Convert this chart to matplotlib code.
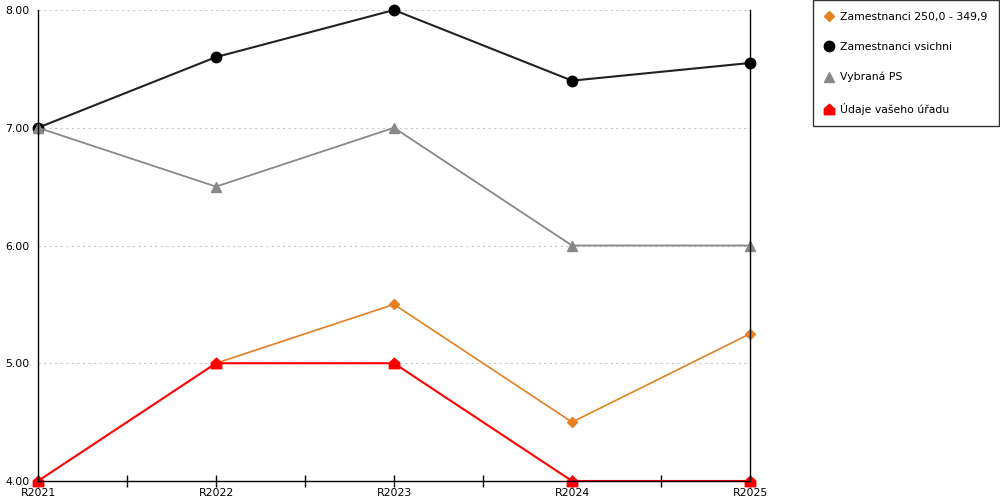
import matplotlib
matplotlib.use("Agg")
import matplotlib.pyplot as plt
import numpy as np
from matplotlib.path import Path

plt.rcParams['font.family'] = ['DejaVu Sans']

roky = ['R2021', 'R2022', 'R2023', 'R2024', 'R2025']
zam_250 = [np.nan, 5.0, 5.5, 4.5, 5.25]
zam_vsichni = [7.0, 7.6, 8.0, 7.4, 7.55]
vybrana_ps = [7.0, 6.5, 7.0, 6.0, 6.0]
vas_urad = [4.0, 5.0, 5.0, 4.0, 4.0]

# domecek - ctverec se strizkou
house = Path([(-1, -1), (1, -1), (1, 0.1), (0, 1), (-1, 0.1), (-1, -1)],
             [Path.MOVETO, Path.LINETO, Path.LINETO, Path.LINETO, Path.LINETO, Path.CLOSEPOLY])

fig = plt.figure(figsize=(10, 5), dpi=100)
ax = fig.add_axes([0.038, 0.038, 0.712, 0.942])

x = np.arange(len(roky))
ax.plot(x, zam_250, color='#E67E22', lw=1.2, marker='D', ms=5.5, clip_on=False,
        label='Zamestnanci 250,0 - 349,9')
ax.plot(x, zam_vsichni, color='#222222', lw=1.5, marker='o', ms=7.5, mfc='black', mec='black',
        clip_on=False, label='Zamestnanci vsichni')
ax.plot(x, vybrana_ps, color='#888888', lw=1.3, marker='^', ms=7.5, clip_on=False, label='Vybraná PS')
ax.plot(x, vas_urad, color='#FF0000', lw=1.5, marker=house, ms=7.5, clip_on=False,
        label='Údaje vašeho úřadu')

ax.set_xlim(0, 4)
ax.set_ylim(4, 8)
ax.set_xticks(x)
ax.set_xticklabels(roky)
ax.set_xticks(x[:-1] + 0.5, minor=True)
ax.set_yticks([4, 5, 6, 7, 8])
ax.set_yticklabels(['4.00', '5.00', '6.00', '7.00', '8.00'])
ax.tick_params(axis='x', which='both', direction='inout', length=8, width=1, labelsize=7.8, pad=1)
ax.tick_params(axis='y', length=0, labelsize=7.8, pad=6)

ax.yaxis.grid(True, color='#c8c8c8', linestyle=(0, (2, 3)), lw=0.8)
ax.set_axisbelow(True)
ax.spines['top'].set_visible(False)
for s in ['left', 'right', 'bottom']:
    ax.spines[s].set_color('black')
    ax.spines[s].set_linewidth(1)

# legenda vpravo nahore, jen znacky bez car
h, l = ax.get_legend_handles_labels()
leg = fig.legend(h, l, loc='upper left', bbox_to_anchor=(0.813, 1.0), fontsize=7.8,
                 frameon=True, fancybox=False, edgecolor='black', borderpad=1.1,
                 labelspacing=1.85, handlelength=0.8, handletextpad=0.6, borderaxespad=0)
leg.get_frame().set_linewidth(1)
for lh in leg.legend_handles:
    lh.set_linestyle('None')

fig.savefig('out.png', dpi=100)
